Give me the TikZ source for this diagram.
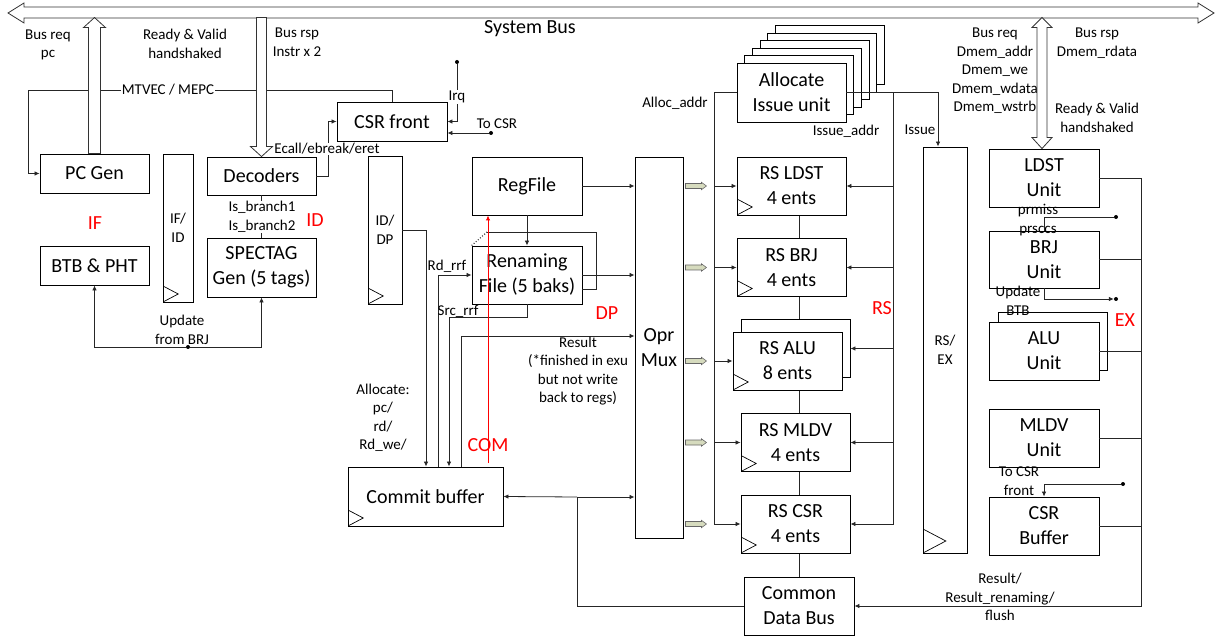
\documentclass[tikz,border=0pt]{standalone}
\usepackage{fontspec}
\setmainfont{Carlito}
\usepackage{tikz}
\usetikzlibrary{arrows.meta,calc,backgrounds}
\definecolor{khaki}{RGB}{214,219,190}
\newcommand{\boxfont}{\fontsize{20}{25}\selectfont}
\newcommand{\lblfont}{\fontsize{15}{18.5}\selectfont}

\begin{document}
\begin{tikzpicture}[x=1pt, y=-1pt,
  box/.style={draw=black, line width=0.9pt, fill=white, align=center, font=\boxfont,
    inner sep=2pt, minimum width=109pt, minimum height=58pt},
  clk/.style={path picture={\draw[line width=0.7pt] (path picture bounding box.south west)
    ++(0pt,#1) -- ++(0.95*#1,-0.5*#1) -- ++(-0.95*#1,-0.5*#1);}},
  clk/.default=16pt,
  regbox/.style={box, font=\lblfont, clk},
  lbl/.style={align=center, font=\lblfont, inner sep=1pt},
  stage/.style={text=red, font=\boxfont, inner sep=1pt},
  arr/.style={-{Latex[length=5pt,width=4.5pt]}},
  wire/.style={draw=black!85, line width=0.8pt},
  hollow/.style={draw=black!80, fill=white, line width=0.8pt},
  dblarr/.style={draw=black!60, fill=khaki, line width=0.6pt},
  jdot/.style={circle, fill=black, inner sep=0pt, minimum size=4pt}]
  \useasboundingbox (0,0) rectangle (1216,636);

  % System bus
  \draw[hollow] (8,13) -- (24,3) -- (24,7) -- (1198,7) -- (1198,3) -- (1214,13)
    -- (1198,23) -- (1198,18) -- (24,18) -- (24,23) -- cycle;
  \node[font=\boxfont] (sysbus) at (530,29) {System Bus};

  % IF / ID
  \node[box, minimum height=39] (pcgen) at (94.5,173.5) {PC Gen};
  \node[box, minimum height=39] (btb) at (94.5,265.5) {BTB \& PHT};
  \node[regbox, minimum width=30, minimum height=148] (ifid) at (178,228) {IF/\\ID};
  \node[box, minimum height=38] (dec) at (261.5,176) {Decoders};
  \node[box, minimum height=59] (spectag) at (261.5,267.5) {SPECTAG\\Gen (5 tags)};
  \node[box, minimum width=110, minimum height=39] (csrf) at (392,121.5) {CSR front};
  \node[regbox, minimum width=34, minimum height=148] (iddp) at (385,230) {ID/\\DP};

  % DP
  \node[box, minimum width=110] (regf) at (527,186) {RegFile};
  \node[box, minimum width=110] (renf) at (527,275) {Renaming\\File (5 baks)};
  \node[box, clk, minimum width=155, minimum height=59] (commit) at (425.5,496.5) {Commit buffer};
  \node[box, minimum width=48, minimum height=381] (oprmux) at (659,347.5) {Opr\\Mux};

  % RS
  \foreach \k in {5,4,...,1}
    \node[box, minimum height=59] (allocbk\k) at (791.5+7.7*\k, 92.5-7.5*\k) {};
  \node[box, minimum height=59] (alloc) at (791.5,92.5) {Allocate\\Issue unit};
  \node[box, clk] (rsldst) at (791.5,186) {RS LDST\\4 ents};
  \node[box, clk] (rsbrj) at (791.5,267.5) {RS BRJ\\4 ents};
  \node[box] (rsalubk) at (795.5,348.5) {};
  \node[box, clk] (rsalu) at (787.5,361) {RS ALU\\8 ents};
  \node[box, clk] (rsmldv) at (795.5,442.5) {RS MLDV\\4 ents};
  \node[box, clk] (rscsr) at (795.5,524) {RS CSR\\4 ents};
  \node[box, minimum width=110] (cdb) at (799,606) {Common\\Data Bus};
  \node[regbox, clk=24pt, minimum width=44, minimum height=406] (rsex) at (945,350) {RS/\\EX};

  % EX
  \node[box, minimum width=110] (ldst) at (1044,178) {LDST\\Unit};
  \node[box, minimum width=110, minimum height=57] (brj) at (1044,259.5) {BRJ\\Unit};
  \node[box] (alubk) at (1052.5,341) {};
  \node[box, minimum width=110] (alu) at (1044,351) {ALU\\Unit};
  \node[box, minimum width=110] (mldv) at (1044,438) {MLDV\\Unit};
  \node[box, minimum width=110] (csrbuf) at (1044,526) {CSR\\Buffer};

  \begin{scope}[on background layer]
    \draw[wire] (cdb.north) -- (cdb.north |- rsldst.south);
  \end{scope}

  % fetch / decode wires
  \coordinate (mtv) at (28,90);
  \draw[wire, arr] (csrf.north) |- (mtv) |- (pcgen.west);
  \node[lbl, fill=white] (mtvlbl) at (168,90) {MTVEC / MEPC};

  \coordinate (ecx) at (328,176);
  \draw[wire, arr] (dec.east) -- (ecx) |- (csrf.west);
  \node[lbl, fill=white, inner sep=0.5pt] (ecall) at (327,149) {Ecall/ebreak/eret};

  \node[jdot] (irqdot) at (457,62) {};
  \draw[wire, arr] (irqdot) |- (csrf.east);
  \node[lbl, fill=white] (irq) at (457,97) {Irq};
  \node[jdot] (tocsrdot) at (491,133) {};
  \draw[wire, arr] (tocsrdot) -- (tocsrdot -| csrf.east);
  \node[lbl] (tocsr) at (497,124) {To CSR};

  \draw[wire] (dec.south) -- (spectag.north);
  \node[lbl, fill=white] (isbr) at (262,217) {Is\_branch1\\Is\_branch2};

  \node[jdot] (upddot) at (188,347) {};
  \draw[wire, arr] (upddot) -| (btb.south);
  \draw[wire, arr] (upddot) -| (spectag.south);
  \node[lbl] (updlbl) at (182,330) {Update\\from BRJ};

  % dispatch wires
  \draw[wire, arr] (regf.east) -- (regf.east -| oprmux.west);
  \draw[wire, arr] (regf.south) -- (renf.north);
  \draw[wire, arr] (renf.east) -- (renf.east -| oprmux.west);
  \coordinate (loopa) at (596,232);
  \coordinate (loopb) at (487,232);
  \draw[wire] ([yshift=-14pt]renf.east) -| (loopa) -- (loopb);
  \draw[wire, dotted, line width=1.2pt] (loopb) -- (renf.north west);

  \coordinate (rdx) at (438,275);
  \draw[wire, arr] (rdx |- commit.north) -- (rdx) -- (renf.west);
  \node[lbl] (rdlbl) at (447,266) {Rd\_rrf};
  \coordinate (srcx) at (449,317);
  \draw[wire, arr] (renf.south) |- (srcx) -- (srcx |- commit.north);
  \node[lbl] (srclbl) at (458,311) {Src\_rrf};
  \coordinate (allx) at (426,230);
  \draw[wire, arr] (iddp.east) -- (allx) -- (allx |- commit.north);
  \node[lbl] (allocl) at (383,418) {Allocate:\\pc/\\rd/\\Rd\_we/};
  \coordinate (resx) at (461,336);
  \draw[wire, arr] (resx |- commit.north) -- (resx) -- (resx -| oprmux.west);
  \node[lbl] (reslbl) at (578,371) {Result\\(*finished in exu\\but not write\\back to regs)};

  \coordinate (comtop) at (488,463);
  \draw[red, line width=0.9pt, arr] (comtop) -- (comtop |- regf.south);

  \coordinate (cbj) at (577,497);
  \draw[wire] (cdb.west) -| (cbj);
  \draw[wire, arr] (cbj) -- (commit.east);
  \draw[wire, arr] (cbj) -- (cbj -| oprmux.west);

  \foreach \n in {rsldst,rsbrj,rsalu,rsmldv,rscsr}
    \draw[dblarr] (oprmux.east |- \n.west) ++(2,-2.5) -- ++(16,0) -- ++(0,-1.2)
      -- ++(5,3.7) -- ++(-5,3.7) -- ++(0,-1.2) -- ++(-16,0) -- cycle;

  % issue wires
  \coordinate (allocx) at (714,92.5);
  \draw[wire, arr] (alloc.west) -- (allocx) |- (rscsr.west);
  \foreach \n in {rsldst,rsbrj,rsalu,rsmldv}
    \draw[wire, arr] (allocx |- \n.west) -- (\n.west);
  \node[lbl] (alloca) at (675,103) {Alloc\_addr};

  \coordinate (issx) at (893,92.5);
  \coordinate (isse) at (938,92.5);
  \draw[wire] (alloc.east) -- (isse);
  \draw[wire, arr] (isse) -- (isse |- rsex.north);
  \draw[wire, arr] (issx) |- (rscsr.east);
  \foreach \n in {rsldst,rsbrj,rsalubk,rsmldv}
    \draw[wire, arr] (issx |- \n.east) -- (\n.east);
  \node[lbl] (issaddr) at (846,131) {Issue\_addr};
  \node[lbl] (isslbl) at (920,130) {Issue};

  % execute wires
  \coordinate (rbus) at (1141,178);
  \draw[wire, arr] (ldst.east) -- (rbus) |- (cdb.east);
  \foreach \n in {brj,alu,mldv,csrbuf}
    \draw[wire] (\n.east) -- (rbus |- \n.east);
  \node[lbl] (reslbl2) at (1000,597) {Result/\\Result\_renaming/\\flush};

  \node[jdot] (pmdot) at (1116,217) {};
  \draw[wire] (brj.north) |- (pmdot);
  \node[lbl] (pmlbl) at (1038,220) {prmiss\\prsccs};
  \node[jdot] (ubdot) at (1116,299) {};
  \draw[wire, arr] (brj.south) |- (ubdot);
  \node[lbl] (ublbl) at (1018,301) {Update\\BTB};
  \node[jdot] (tcdot) at (1123,484) {};
  \draw[wire, arr] (tcdot) -| (csrbuf.north);
  \node[lbl] (tclbl) at (1019,481) {To CSR\\front};

  % bus arrows
  \draw[hollow] (pcgen.north) ++(-6,0) -- ++(0,-126) -- ++(-5,0) -- ++(11,-10)
    -- ++(11,10) -- ++(-5,0) -- ++(0,126) -- cycle;
  \draw[hollow] (dec.north) ++(-5,-10) -- ++(0,-129) -- ++(10,0) -- ++(0,129)
    -- ++(6,0) -- ++(-11,10) -- ++(-11,-10) -- cycle;
  \draw[hollow] ([xshift=-2pt]ldst.north) -- ++(-10,-11) -- ++(5,0) -- ++(0,-110)
    -- ++(-5,0) -- ++(10,-10) -- ++(10,10) -- ++(-5,0) -- ++(0,110) -- ++(5,0) -- cycle;

  \node[lbl] (busreq1) at (48,45) {Bus req\\pc};
  \node[lbl] (rv1) at (185,44) {Ready \& Valid\\handshaked};
  \node[lbl] (busrsp1) at (297,42) {Bus rsp\\Instr x 2};
  \node[lbl] (busreq2) at (995,71) {Bus req\\Dmem\_addr\\Dmem\_we\\Dmem\_wdata\\Dmem\_wstrb};
  \node[lbl] (busrsp2) at (1097,43) {Bus rsp\\Dmem\_rdata};
  \node[lbl] (rv2) at (1097,118) {Ready \& Valid\\handshaked};

  % stages
  \node[stage] (ifl) at (95,223) {IF};
  \node[stage] (idl) at (315,220) {ID};
  \node[stage] (dpl) at (607,313) {DP};
  \node[stage] (coml) at (488,445) {COM};
  \node[stage, fill=white] (rsl) at (882,308) {RS};
  \node[stage] (exl) at (1125,320) {EX};
\end{tikzpicture}
\end{document}
